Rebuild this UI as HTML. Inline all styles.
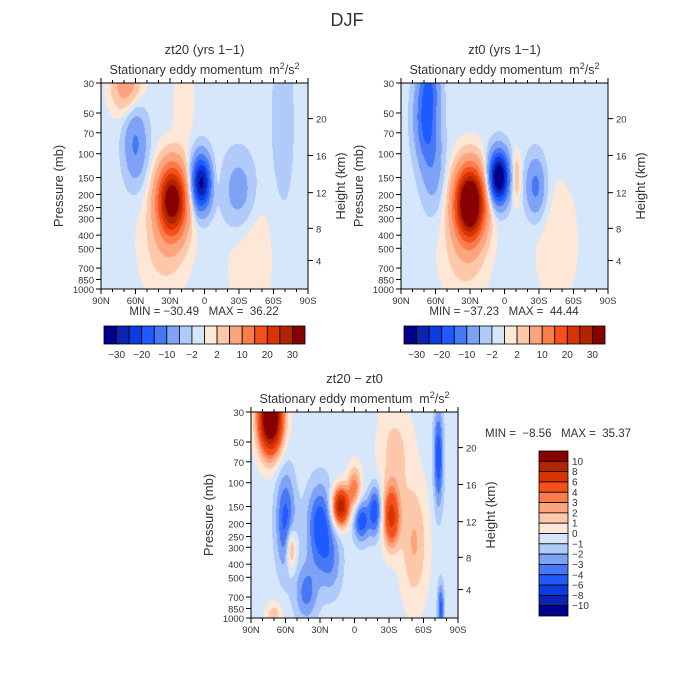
<!DOCTYPE html>
<html><head><meta charset="utf-8">
<style>
body{margin:0;background:#fff;}
#wrap{position:relative;width:700px;height:700px;overflow:hidden;font-family:"Liberation Sans",sans-serif;}
canvas{position:absolute;}
svg{position:absolute;left:0;top:0;}
text{font-family:"Liberation Sans",sans-serif;fill:#333;white-space:pre;}
</style></head>
<body>
<div id="wrap">
<canvas id="c0" width="207" height="206" style="left:101px;top:83px"></canvas>
<canvas id="c1" width="207" height="206" style="left:401px;top:83px"></canvas>
<canvas id="c2" width="207" height="206" style="left:251px;top:412px"></canvas>
<svg id="s" width="700" height="700">
<text x="347" y="26" font-size="18" text-anchor="middle" fill="#555">DJF</text>
</svg>
</div>
<script>
// ---- data ----
const colors=["#00008b","#0a23b0","#0a3ce0","#1e5aff","#4678f5","#7ea2f5","#b0cbfa","#d6e7fb","#fde7d6","#fdc8aa","#fca47e","#fa7d4c","#f4501c","#d93400","#b02400","#880000"];
const levelsTop=[-30,-25,-20,-15,-10,-5,-2,0,2,5,10,15,20,25,30];
const levelsDiff=[-10,-8,-6,-4,-3,-2,-1,0,1,2,3,4,6,8,10];
const pressureTicks=[30,50,70,100,150,200,250,300,400,500,700,850,1000];
const heightTicks=[4,8,12,16,20];
const heightPressure=[616,356,194,103,55];
const latTicks=[90,60,30,0,-30,-60,-90];
const latLabels=["90N","60N","30N","0","30S","60S","90S"];
const topBarLabels=["-30","-20","-10","-2","2","10","20","30"];
const diffBarLabels=["10","8","6","4","3","2","1","0","\u22121","\u22122","\u22123","\u22124","\u22126","\u22128","\u221210"];
// blobs: [lat, pressure(mb), amplitude, sigmaLat(deg), sigmaLogP]
const base0=-0.8, base1=-0.8, base2=-0.4;
const blobs0=[[28,220,36,9,0.42],[3,165,-31,6,0.32],[60,85,-10,7,0.45],[68,30,9,9,0.35],[-30,190,-7,10,0.45],[-68,60,-2.5,8,1.2],[35,450,4,14,0.6],[-40,500,2.5,14,0.8],[18,40,2.5,6,0.5],[-10,150,1.8,3,0.3]];
const blobs1=[[30,230,45,9,0.42],[5,150,-38,6,0.3],[68,55,-16,7,0.5],[62,130,-6,7,0.5],[-27,175,-11,6,0.35],[-10,150,6,3,0.3],[35,500,4,14,0.6],[-45,450,2,14,0.8],[65,30,-8,6,0.3]];
const blobs2=[[73,33,16,7,0.4],[60,190,-4,6,0.6],[30,210,-4.5,8,0.5],[55,310,4,3,0.25],[12,150,10,5,0.22],[0,110,4,4,0.25],[-6,190,-4.5,5,0.25],[-18,160,-4.5,4,0.3],[-32,180,7,5,0.35],[-52,280,2.5,8,0.7],[-73,65,-4.5,3,0.6],[-75,850,-4,2,0.3],[42,650,-3,7,0.35],[20,400,-2,7,0.4],[70,950,2,5,0.15],[-35,60,1.8,10,0.6]];
// ---- axes ----
const PW=207,PH=206,L0=Math.log(30),L1=Math.log(1000);
function xLat(lat){return (90-lat)/180*PW;}
function yP(p){return (Math.log(p)-L0)/(L1-L0)*PH;}
function field(blobs,base,lat,p){let v=base;const lp=Math.log(p);
 for(const b of blobs){const dl=(lat-b[0])/b[3],dp=(lp-Math.log(b[1]))/b[4];v+=b[2]*Math.exp(-0.5*(dl*dl+dp*dp));}return v;}
function colorIdx(v,lev){let i=0;while(i<lev.length&&v>=lev[i])i++;return i;}
function draw(id,blobs,base,lev){const c=document.getElementById(id),g=c.getContext('2d');
 for(let x=0;x<PW;x++)for(let y=0;y<PH;y++){const lat=90-(x+0.5)/PW*180;const p=Math.exp(L0+(y+0.5)/PH*(L1-L0));
  g.fillStyle=colors[colorIdx(field(blobs,base,lat,p),lev)];g.fillRect(x,y,1,1);}}
draw('c0',blobs0,base0,levelsTop);draw('c1',blobs1,base1,levelsTop);draw('c2',blobs2,base2,levelsDiff);
const S=document.getElementById('s');const NS='http://www.w3.org/2000/svg';
function el(t,a,txt){const e=document.createElementNS(NS,t);for(const k in a)e.setAttribute(k,a[k]);if(txt!==undefined)e.textContent=txt;S.appendChild(e);return e;}
function panel(ox,oy,title,nm){
 const t1=el('text',{x:ox+PW/2,y:oy-29,'font-size':13,'text-anchor':'middle'},title);
 
 const t2=el('text',{x:ox+PW/2,y:oy-9,'font-size':12.5,'text-anchor':'middle'});
 t2.innerHTML='Stationary eddy momentum  m<tspan dy="-5" font-size="9">2</tspan><tspan dy="5">/s</tspan><tspan dy="-5" font-size="9">2</tspan>';
 
 const r=el('rect',{x:ox,y:oy,width:PW,height:PH,fill:'none',stroke:'#000','stroke-width':1});
 
 for(const p of pressureTicks){const y=oy+yP(p);el('line',{x1:ox-5,x2:ox,y1:y,y2:y,stroke:'#000'});
  const tx=el('text',{x:ox-7,y:y+4,'font-size':9.5,'text-anchor':'end'},p);}
 heightTicks.forEach((h,i)=>{const y=oy+yP(heightPressure[i]);el('line',{x1:ox+PW,x2:ox+PW+5,y1:y,y2:y,stroke:'#000'});
  const tx=el('text',{x:ox+PW+8,y:y+4,'font-size':9.5},h);});
 for(let lat=90;lat>=-90;lat-=10){const x=ox+xLat(lat);const L=lat%30==0?5:3;
  el('line',{x1:x,x2:x,y1:oy+PH,y2:oy+PH+L,stroke:'#000'});el('line',{x1:x,x2:x,y1:oy,y2:oy-L,stroke:'#000'});}
 latTicks.forEach((lat,i)=>{const tx=el('text',{x:ox+xLat(lat),y:oy+PH+15,'font-size':9.5,'text-anchor':'middle'},latLabels[i]);
  });
 const ya=el('text',{transform:`translate(${ox-38},${oy+PH/2}) rotate(-90)`,'font-size':13,'text-anchor':'middle'},'Pressure (mb)');
 
 const yb=el('text',{transform:`translate(${ox+PW+37},${oy+PH/2}) rotate(-90)`,'font-size':13,'text-anchor':'middle'},'Height (km)');
 
}
panel(101,83,'zt20 (yrs 1\u22121)','zt20');panel(401,83,'zt0 (yrs 1\u22121)','zt0');panel(251,412,'zt20 \u2212 zt0','difference');
function stats(x,y,txt,anchor){const t=el('text',{x:x,y:y,'font-size':11.5,'text-anchor':anchor},txt);}
stats(204,315,'MIN = \u221230.49   MAX =  36.22','middle');stats(504,315,'MIN = \u221237.23   MAX =  44.44','middle');stats(485,437,'MIN =  \u22128.56   MAX =  35.37','start');
function hbar(ox,oy,nm){const w=201/16;
 colors.forEach((c,i)=>{const r=el('rect',{x:ox+i*w,y:oy,width:w,height:18,fill:c,stroke:'#000','stroke-width':0.8});
  });
 topBarLabels.forEach((t,i)=>{const k=[1,3,5,7,9,11,13,15][i];const tx=el('text',{x:ox+k*w,y:oy+32,'font-size':10,'text-anchor':'middle'},t.replace('-','\u2212'));
  });}
hbar(104,326,'zt20-colorbar');hbar(404,326,'zt0-colorbar');
const vh=165/16;
colors.slice().reverse().forEach((c,i)=>{const r=el('rect',{x:539,y:451+i*vh,width:29,height:vh,fill:c,stroke:'#000','stroke-width':0.8});
 });
diffBarLabels.forEach((t,i)=>{const tx=el('text',{x:572,y:451+(i+1)*vh+3.5,'font-size':10},t);
 });
</script>
</body></html>
